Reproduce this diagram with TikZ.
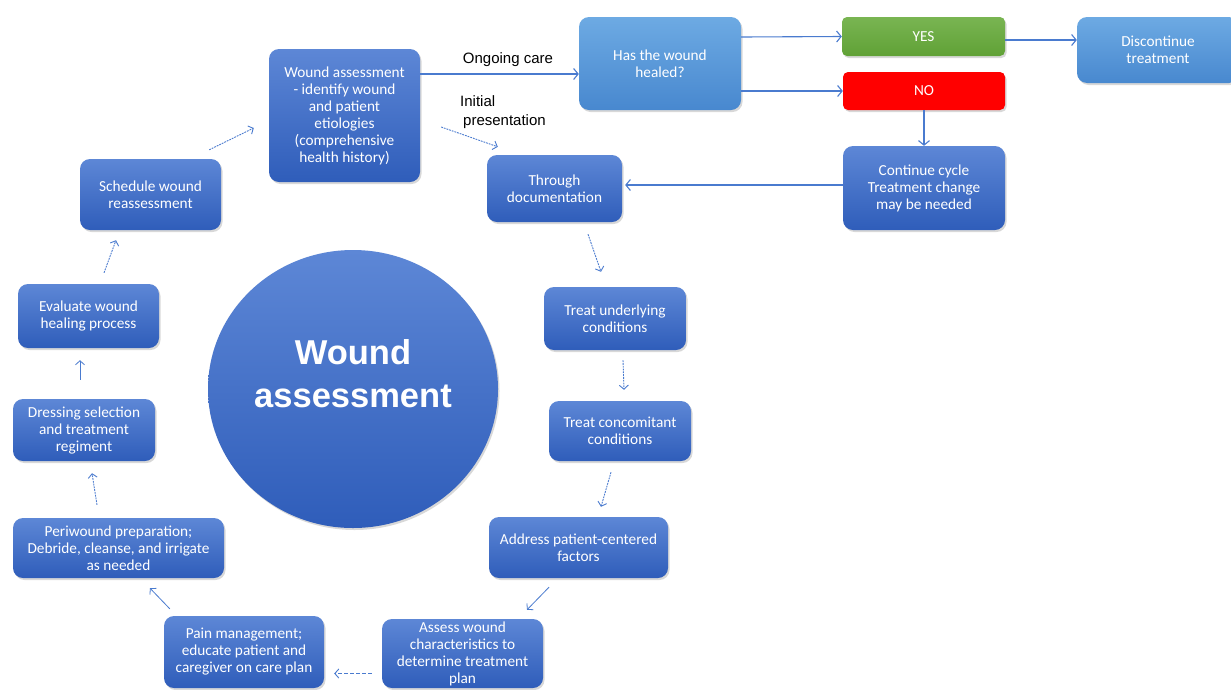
\documentclass[tikz,border=0pt]{standalone}
\usepackage{fontspec}
\setmainfont{Carlito}
\newfontfamily\arialf{Liberation Sans}
\usetikzlibrary{arrows.meta,shadows,shapes.geometric}
\definecolor{bxtop}{HTML}{5D87D6}
\definecolor{bxbot}{HTML}{2F5DBA}
\definecolor{lbtop}{HTML}{6DAAE3}
\definecolor{lbbot}{HTML}{4888CF}
\definecolor{ystop}{HTML}{79B552}
\definecolor{ysbot}{HTML}{60A136}
\definecolor{arrc}{HTML}{4A7BCF}
\begin{document}
\begin{tikzpicture}[x=1pt,y=-1pt,
  box/.style={rounded corners=10pt, top color=bxtop, bottom color=bxbot, draw=none,
    text=white, align=center, font=\fontsize{15.3}{17}\selectfont, inner sep=0pt,
    drop shadow={shadow xshift=1.5pt,shadow yshift=-2pt,opacity=0.3}},
  lbox/.style={box, top color=lbtop, bottom color=lbbot},
  conn/.style={draw=arrc, line width=1.1pt, -{Straight Barb[length=4.5pt,width=11pt]}},
  tconn/.style={conn, line width=0.8pt, -{Straight Barb[length=4pt,width=9pt]}},
  dconn/.style={tconn, line width=0.9pt, dash pattern=on 1.8pt off 1pt},
  lbl/.style={font=\arialf\fontsize{15}{19}\selectfont, text=black, inner sep=0pt}]
\fill[white] (0,0) rectangle (1231,689);
\useasboundingbox (0,0) rectangle (1231,689);

% central circle
\node[ellipse, minimum width=290pt, minimum height=278pt, inner sep=0pt,
  top color=bxtop, bottom color=bxbot, draw=none,
  drop shadow={shadow xshift=1.5pt,shadow yshift=-2pt,opacity=0.3}]
  (circ) at (353,389) {};
\node[text=white, align=center, inner sep=0pt,
  font=\arialf\bfseries\fontsize{34.5}{43}\selectfont]
  (ctext) at (353,374) {Wound\\assessment};

% boxes
\node[box, minimum width=151pt, minimum height=133pt] (WA) at (344.5,115.5)
  {Wound assessment\\- identify wound\\and patient\\etiologies\\(comprehensive\\health history)};
\node[lbox, minimum width=162pt, minimum height=93pt] (Heal) at (660,63.5)
  {Has the wound\\healed?};
\node[box, rounded corners=5pt, top color=ystop, bottom color=ysbot, minimum width=163pt, minimum height=39pt] (YES) at (923.5,36.5) {YES};
\node[box, rounded corners=5pt, top color=red, bottom color=red, minimum width=162pt, minimum height=38pt] (NO) at (924,91) {NO};
\node[lbox, minimum width=162pt, minimum height=66pt] (Disc) at (1158,50)
  {Discontinue\\treatment};
\node[box, minimum width=162pt, minimum height=84pt] (Cont) at (924,188)
  {Continue cycle\\Treatment change\\may be needed};
\node[box, minimum width=135pt, minimum height=67pt] (Doc) at (554.5,188.5)
  {Through\\documentation};
\node[box, minimum width=142pt, minimum height=63pt] (TU) at (615,318.5)
  {Treat underlying\\conditions};
\node[box, minimum width=142pt, minimum height=60pt] (TC) at (620,431)
  {Treat concomitant\\conditions};
\node[box, minimum width=179pt, minimum height=61pt] (Addr) at (578.5,547.5)
  {Address patient-centered\\factors};
\node[box, minimum width=161pt, minimum height=69pt] (Assess) at (462.5,653.5)
  {Assess wound\\characteristics to\\determine treatment\\plan};
\node[box, minimum width=160pt, minimum height=72pt] (Pain) at (244,652)
  {Pain management;\\educate patient and\\caregiver on care plan};
\node[box, minimum width=211pt, minimum height=60pt] (Peri) at (118.5,548)
  {Periwound preparation;\\Debride, cleanse, and irrigate\\as needed};
\node[box, minimum width=142pt, minimum height=62pt] (Dress) at (84,430)
  {Dressing selection\\and treatment\\regiment};
\node[box, minimum width=141pt, minimum height=64pt] (Eval) at (88.5,316)
  {Evaluate wound\\healing process};
\node[box, minimum width=141pt, minimum height=71pt] (Sched) at (150.5,194.5)
  {Schedule wound\\reassessment};

% labels
\node[lbl] (og) at (508,59.5) {Ongoing care};
\node[lbl, align=left, anchor=north west] (ip) at (460,95) {Initial\\\hspace*{3pt}presentation};

% connectors
\draw[conn] ([yshift=41.5pt]WA.east) -- ([yshift=-10.5pt]Heal.west);
\draw[dconn] ([xshift=21pt,yshift=-11.5pt]WA.east) -- ([xshift=11pt,yshift=8pt]Doc.north west);
\draw[conn] ([yshift=26.5pt]Heal.east) -- (YES.west);
\draw[conn] ([yshift=-27.5pt]Heal.east) -- (NO.west);
\draw[conn] ([yshift=-3.5pt]YES.east) -- ([yshift=10pt]Disc.west);
\draw[conn] (NO.south) -- (Cont.north);
\draw[conn] ([yshift=3pt]Cont.west) -- ([xshift=3pt,yshift=3.5pt]Doc.east);
\draw[dconn] ([xshift=33.5pt,yshift=-12pt]Doc.south) -- ([xshift=-14pt,yshift=15pt]TU.north);
\draw[dconn] ([xshift=8pt,yshift=-10pt]TU.south) -- ([xshift=4pt,yshift=11pt]TC.north);
\draw[dconn] ([xshift=-9pt,yshift=-11pt]TC.south) -- ([xshift=22.5pt,yshift=10pt]Addr.north);
\draw[tconn] ([xshift=-29.5pt,yshift=-9pt]Addr.south) -- ([xshift=64.5pt,yshift=9pt]Assess.north);
\draw[dconn, dash pattern=on 4pt off 2pt] ([xshift=-10pt,yshift=-20pt]Assess.west) -- ([xshift=10pt,yshift=-21.5pt]Pain.east);
\draw[tconn] ([xshift=6pt,yshift=7pt]Pain.north west) -- ([xshift=31.5pt,yshift=-10pt]Peri.south);
\draw[dconn] ([xshift=-21.5pt,yshift=13pt]Peri.north) -- ([xshift=8pt,yshift=-12pt]Dress.south);
\draw[tconn] ([xshift=-4pt,yshift=19pt]Dress.north) -- ([xshift=-8.5pt,yshift=-12pt]Eval.south);
\draw[dconn] ([xshift=15.5pt,yshift=11pt]Eval.north) -- ([xshift=-34.5pt,yshift=-10pt]Sched.south);
\draw[dconn] ([xshift=-12pt,yshift=9pt]Sched.north east) -- ([xshift=-15pt,yshift=-12.5pt]WA.west);
\end{tikzpicture}
\end{document}
